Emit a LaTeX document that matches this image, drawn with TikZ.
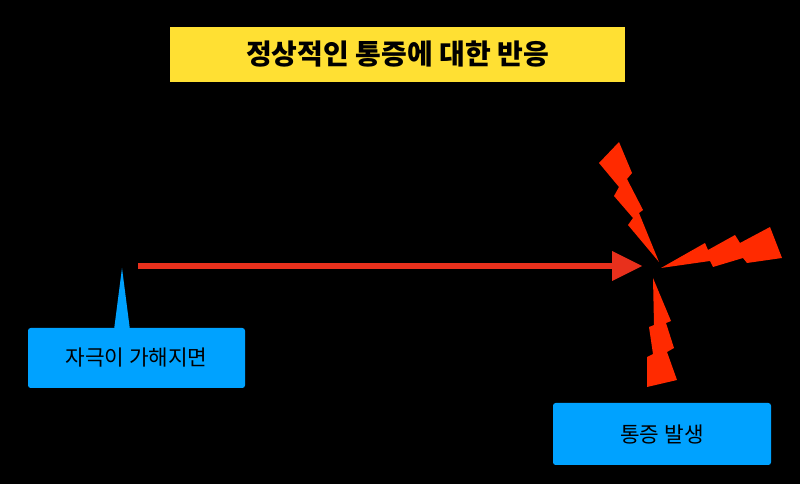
\documentclass[tikz,border=0pt]{standalone}
\usepackage{fontspec}
\setmainfont{Noto Sans CJK KR}
\usepackage{tikz}
\definecolor{boltred}{RGB}{255,42,0}
\definecolor{arrowred}{RGB}{232,48,28}
\definecolor{boxblue}{RGB}{0,162,255}
\definecolor{titleyellow}{RGB}{255,224,51}
\tikzset{
  bolt/.style={fill=boltred,draw=none},
  callout/.style={fill=boxblue,rounded corners=2pt,draw=none},
}
\begin{document}
\begin{tikzpicture}[x=0.75pt,y=0.75pt,yscale=-1,xscale=1]
\fill[black] (0,0) rectangle (800,484);
\useasboundingbox (0,0) rectangle (800,484);

% title
\fill[titleyellow] (170,27) rectangle (625,82);
\node (title) at (397.5,54.5) {\fontsize{21}{24}\selectfont\bfseries 정상적인 통증에 대한 반응};

% stimulus arrow
\coordinate (start) at (138,266);
\coordinate (hit) at (642,266);
\draw[arrowred,line width=5.2pt] (start) -- (612,266);
\fill[arrowred] (612,251) -- (hit) -- (612,281) -- cycle;

% bolts
\fill[bolt] (659,262) -- (628,225) -- (633,218) -- (614,196) -- (619,187) -- (599,163) -- (619,142) -- (632,173) -- (627,179) -- (643,210) -- (639,213) -- cycle;
\fill[bolt] (661,268) -- (705,243) -- (708,250) -- (735,235) -- (740,243) -- (770,227) -- (782,258) -- (747,263) -- (743,258) -- (713,267) -- (710,261) -- cycle;
\fill[bolt] (653,278) -- (671,321) -- (666,323) -- (674,348) -- (667,352) -- (677,380) -- (647,387) -- (647,357) -- (653,354) -- (649,327) -- (654,325) -- cycle;

% callouts
\fill[boxblue] (114,330) -- (122,268) -- (130,330) -- cycle;
\fill[callout] (28,328) rectangle (245,388);
\node (stim) at (136.5,358) {\fontsize{16}{19}\selectfont 자극이 가해지면};
\fill[callout] (553,403) rectangle (771,465);
\node (pain) at (662,434) {\fontsize{16}{19}\selectfont 통증 발생};
\end{tikzpicture}
\end{document}
